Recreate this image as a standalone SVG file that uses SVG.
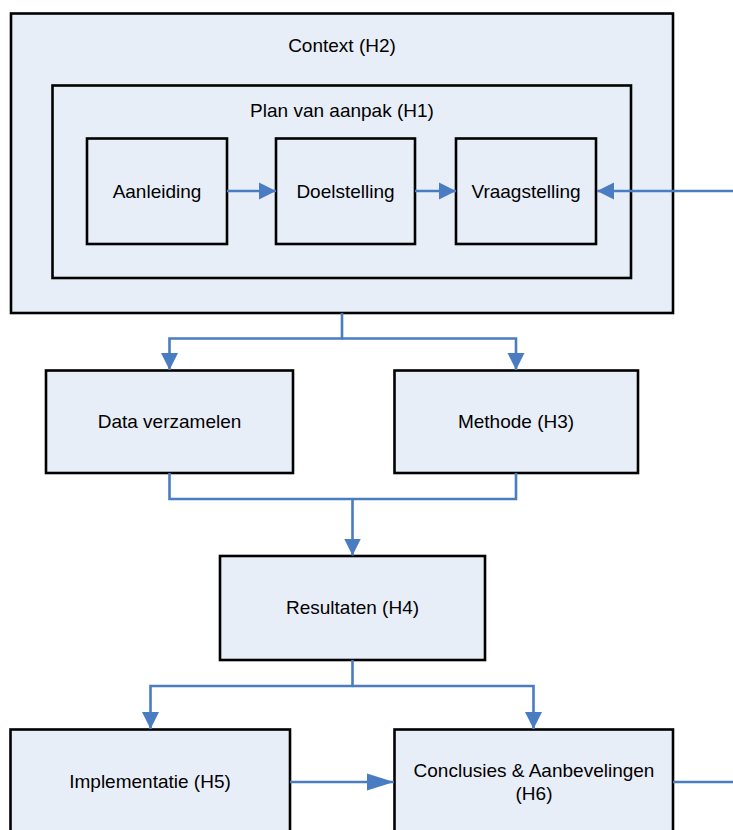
<svg xmlns="http://www.w3.org/2000/svg" width="733" height="830" viewBox="0 0 733 830">
<defs>
<style>
.box{fill:#E8EEF8;stroke:#000;stroke-width:2.6}
.lbl{font-family:"Liberation Sans",Arial,sans-serif;font-size:19px;fill:#000;text-anchor:middle}
.con{fill:none;stroke:#4A7CC2;stroke-width:2.6}
</style>
<marker id="ah" markerUnits="userSpaceOnUse" markerWidth="18" markerHeight="18" refX="17" refY="8.5" orient="auto" viewBox="0 0 18 17">
<path d="M0,0 L17,8.5 L0,17 z" fill="#4A7CC2"/>
</marker>
<marker id="ahl" markerUnits="userSpaceOnUse" markerWidth="28" markerHeight="18" refX="27" refY="8.5" orient="auto" viewBox="0 0 28 17">
<path d="M0,0 L27,8.5 L0,17 z" fill="#4A7CC2"/>
</marker>
</defs>
<rect width="733" height="830" fill="#fff"/>
<g id="context">
<rect class="box" x="11" y="13.5" width="662" height="299.5"/>
<text class="lbl" x="342" y="52">Context (H2)</text>
</g>
<g id="plan">
<rect class="box" x="52.5" y="85.5" width="578.5" height="192.5"/>
<text class="lbl" x="342" y="117">Plan van aanpak (H1)</text>
</g>
<g id="aanleiding">
<rect class="box" x="87" y="138.5" width="140" height="105.5"/>
<text class="lbl" x="157" y="198">Aanleiding</text>
</g>
<g id="doelstelling">
<rect class="box" x="276" y="138.5" width="139" height="105.5"/>
<text class="lbl" x="345.5" y="198">Doelstelling</text>
</g>
<g id="vraagstelling">
<rect class="box" x="456" y="138.5" width="140" height="105.5"/>
<text class="lbl" x="526" y="198">Vraagstelling</text>
</g>
<g id="data">
<rect class="box" x="46" y="370.5" width="247" height="102.5"/>
<text class="lbl" x="169.5" y="428">Data verzamelen</text>
</g>
<g id="methode">
<rect class="box" x="394.5" y="370.5" width="243.5" height="102.5"/>
<text class="lbl" x="516" y="428">Methode (H3)</text>
</g>
<g id="resultaten">
<rect class="box" x="220" y="556" width="265" height="104"/>
<text class="lbl" x="352.5" y="614">Resultaten (H4)</text>
</g>
<g id="implementatie">
<rect class="box" x="10.5" y="729.5" width="279.5" height="115"/>
<text class="lbl" x="150" y="788">Implementatie (H5)</text>
</g>
<g id="conclusies">
<rect class="box" x="394.5" y="729.5" width="278.5" height="115"/>
<text class="lbl" x="534" y="777">Conclusies &amp; Aanbevelingen</text>
<text class="lbl" x="534" y="800">(H6)</text>
</g>
<g id="connectors">
<path class="con" d="M227,191 H276" marker-end="url(#ah)"/>
<path class="con" d="M415,191 H456" marker-end="url(#ah)"/>
<path class="con" d="M733,191 H597" marker-end="url(#ah)"/>
<path class="con" d="M342,313 V338.5 H169.5 V370" marker-end="url(#ah)"/>
<path class="con" d="M342,338.5 H516 V370" marker-end="url(#ah)"/>
<path class="con" d="M169.5,473 V499 H516 V473"/>
<path class="con" d="M352.5,499 V555.5" marker-end="url(#ah)"/>
<path class="con" d="M352.5,660 V686 H150.5 V729" marker-end="url(#ah)"/>
<path class="con" d="M352.5,686 H533.5 V729" marker-end="url(#ah)"/>
<path class="con" d="M290,782 H394" marker-end="url(#ahl)"/>
<path class="con" d="M673,782 H733"/>
</g>
</svg>
